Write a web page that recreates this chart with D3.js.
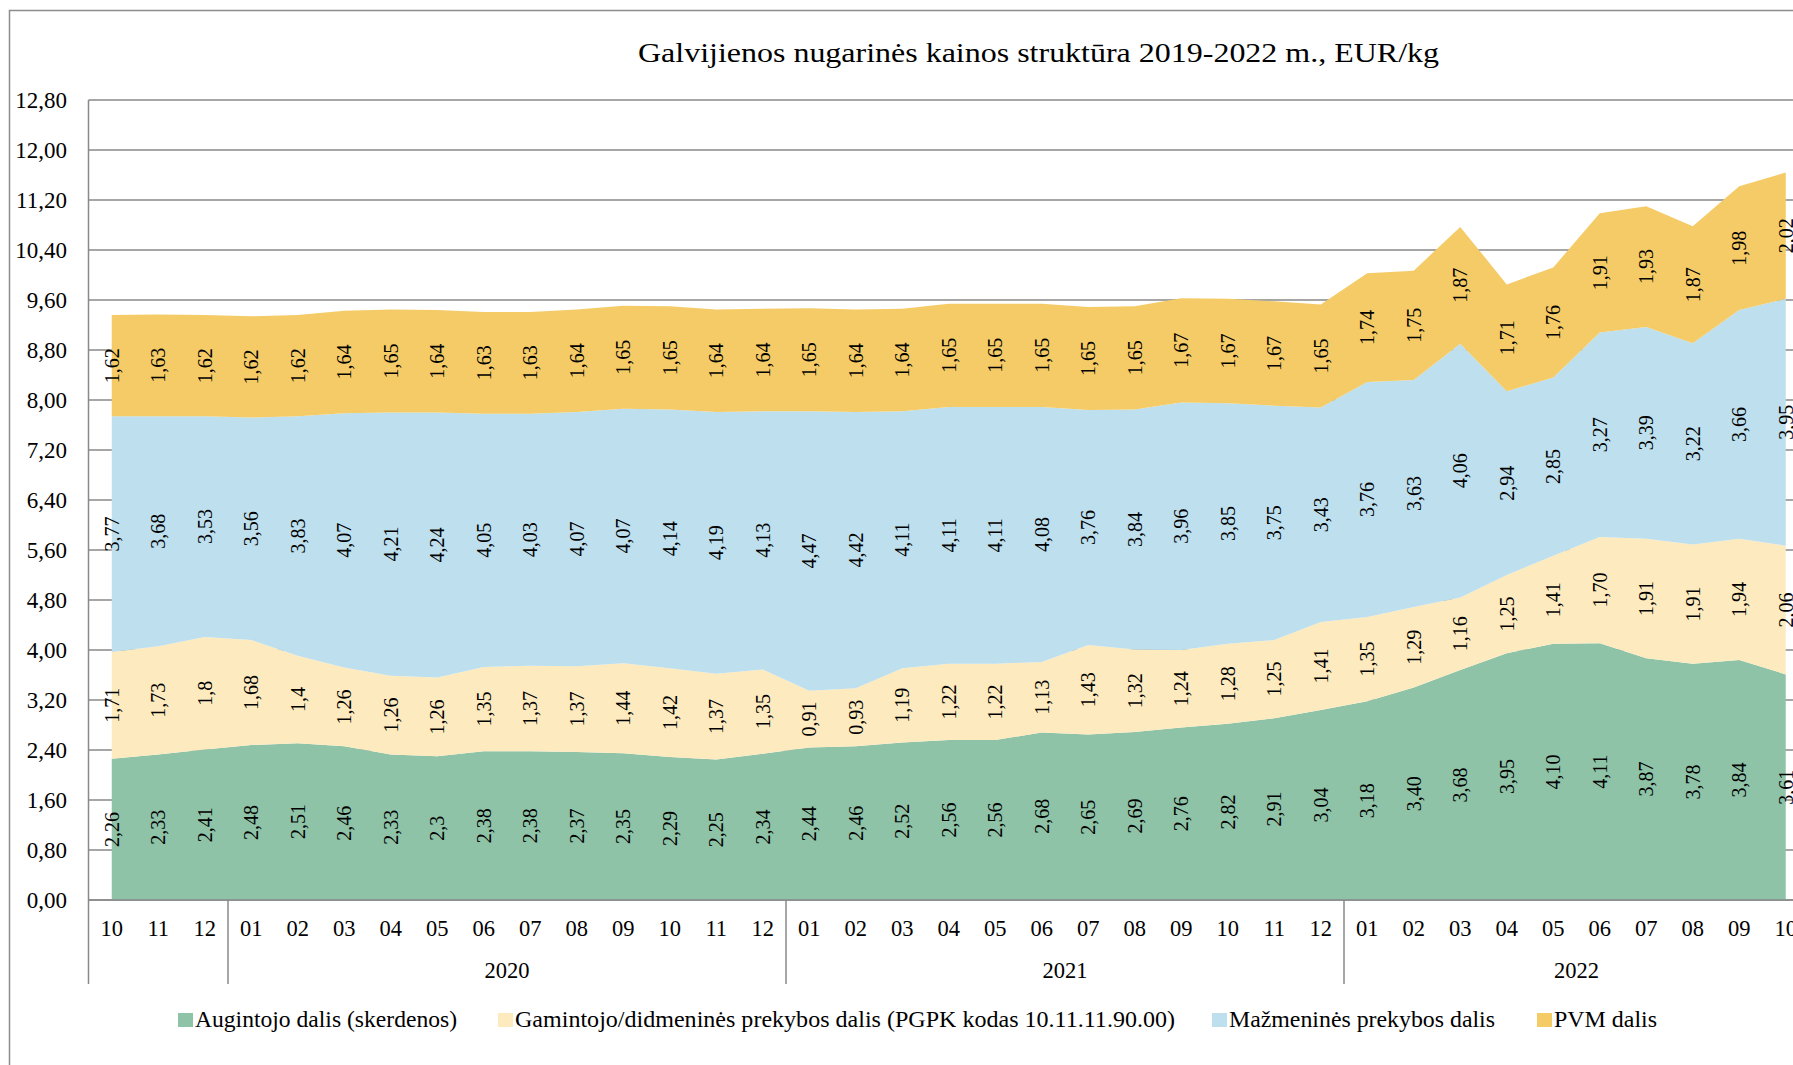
<!DOCTYPE html>
<html>
<head>
<meta charset="utf-8">
<script src="https://cdn.jsdelivr.net/npm/d3@7"></script>
<style>
  body { margin: 0; background: #fff; overflow: hidden; }
  svg { display: block; font-family: "Liberation Serif", "Times New Roman", serif; }
</style>
</head>
<body>
<svg width="1793" height="1065"></svg>
<script>
// kategorijos (menesiai) ir metai
var months = ["10","11","12",
  "01","02","03","04","05","06","07","08","09","10","11","12",
  "01","02","03","04","05","06","07","08","09","10","11","12",
  "01","02","03","04","05","06","07","08","09","10"];
var years = [
  {label: "", start: 0, end: 3},
  {label: "2020", start: 3, end: 15},
  {label: "2021", start: 15, end: 27},
  {label: "2022", start: 27, end: 37}
];

// reiksmes kaip parasyta diagramoje
var augintojo = ["2,26","2,33","2,41",
  "2,48","2,51","2,46","2,33","2,3","2,38","2,38","2,37","2,35","2,29","2,25","2,34",
  "2,44","2,46","2,52","2,56","2,56","2,68","2,65","2,69","2,76","2,82","2,91","3,04",
  "3,18","3,40","3,68","3,95","4,10","4,11","3,87","3,78","3,84","3,61"];
var gamintojo = ["1,71","1,73","1,8",
  "1,68","1,4","1,26","1,26","1,26","1,35","1,37","1,37","1,44","1,42","1,37","1,35",
  "0,91","0,93","1,19","1,22","1,22","1,13","1,43","1,32","1,24","1,28","1,25","1,41",
  "1,35","1,29","1,16","1,25","1,41","1,70","1,91","1,91","1,94","2,06"];
var mazmenines = ["3,77","3,68","3,53",
  "3,56","3,83","4,07","4,21","4,24","4,05","4,03","4,07","4,07","4,14","4,19","4,13",
  "4,47","4,42","4,11","4,11","4,11","4,08","3,76","3,84","3,96","3,85","3,75","3,43",
  "3,76","3,63","4,06","2,94","2,85","3,27","3,39","3,22","3,66","3,95"];
var pvm = ["1,62","1,63","1,62",
  "1,62","1,62","1,64","1,65","1,64","1,63","1,63","1,64","1,65","1,65","1,64","1,64",
  "1,65","1,64","1,64","1,65","1,65","1,65","1,65","1,65","1,67","1,67","1,67","1,65",
  "1,74","1,75","1,87","1,71","1,76","1,91","1,93","1,87","1,98","2,02"];

var seriesNames = ["Augintojo dalis (skerdenos)",
  "Gamintojo/didmeninės prekybos dalis (PGPK kodas 10.11.11.90.00)",
  "Mažmeninės prekybos dalis",
  "PVM dalis"];
var seriesColors = ["#8ec3a7", "#fdebbf", "#bddfee", "#f4cb66"];
var yTicks = [0, 0.8, 1.6, 2.4, 3.2, 4.0, 4.8, 5.6, 6.4, 7.2, 8.0, 8.8, 9.6, 10.4, 11.2, 12.0, 12.8];

var title = "Galvijienos nugarinės kainos struktūra 2019-2022 m., EUR/kg";

var num = function(s) { return +s.replace(",", "."); };
var raw = [augintojo, gamintojo, mazmenines, pvm];
var keys = ["a", "g", "m", "p"];

var data = months.map(function(m, i) {
  return {i: i, a: num(augintojo[i]), g: num(gamintojo[i]), m: num(mazmenines[i]), p: num(pvm[i])};
});

var svg = d3.select("svg");
var gridColor = "#898989";

var x = d3.scaleBand().domain(d3.range(months.length)).range([88.5, 88.5 + 46.5 * months.length]),
    y = d3.scaleLinear().domain([0, 12.8]).range([900, 100]);
var cx = function(i) { return x(i) + x.bandwidth() / 2; };
var edge = function(i) { return i < months.length ? x(i) : x.range()[1]; };

// isorinis remelis
svg.append("rect")
    .attr("x", 9.5).attr("y", 10.5)
    .attr("width", 1900).attr("height", 1200)
    .attr("fill", "none")
    .attr("stroke", "#8c8c8c")
    .attr("stroke-width", 1.5);

svg.append("text")
    .attr("x", 638)
    .attr("y", 62)
    .attr("textLength", 801)
    .attr("lengthAdjust", "spacingAndGlyphs")
    .style("font-size", "27px")
    .text(title);

// tinklelis
svg.append("g").selectAll("line")
    .data(yTicks)
    .enter().append("line")
    .attr("x1", 88.5).attr("x2", 1900)
    .attr("y1", function(d) { return y(d); })
    .attr("y2", function(d) { return y(d); })
    .attr("stroke", gridColor)
    .attr("stroke-width", 1.5);

var stack = d3.stack().keys(keys);
var layers = stack(data);

var area = d3.area()
    .x(function(d) { return cx(d.data.i); })
    .y0(function(d) { return y(d[0]); })
    .y1(function(d) { return y(d[1]); });

svg.append("g").selectAll("path")
    .data(layers)
    .enter().append("path")
    .attr("fill", function(d, k) { return seriesColors[k]; })
    .attr("d", area);

// asys
svg.append("line")
    .attr("x1", 88.5).attr("x2", 88.5)
    .attr("y1", 100).attr("y2", 984)
    .attr("stroke", gridColor).attr("stroke-width", 1.5);
svg.append("line")
    .attr("x1", 88.5).attr("x2", 1900)
    .attr("y1", 900).attr("y2", 900)
    .attr("stroke", gridColor).attr("stroke-width", 1.5);

svg.append("g").selectAll("text")
    .data(yTicks)
    .enter().append("text")
    .attr("x", 67)
    .attr("y", function(d) { return y(d); })
    .attr("dy", "0.35em")
    .attr("text-anchor", "end")
    .style("font-size", "23px")
    .text(function(d) { return d3.format(".2f")(d).replace(".", ","); });

// menesiai
svg.append("g").selectAll("text")
    .data(months)
    .enter().append("text")
    .attr("x", function(d, i) { return cx(i); })
    .attr("y", 936)
    .attr("text-anchor", "middle")
    .style("font-size", "22.5px")
    .text(function(d) { return d; });

// metu skirtukai
svg.append("g").selectAll("line")
    .data(years)
    .enter().append("line")
    .attr("x1", function(d) { return edge(d.end); })
    .attr("x2", function(d) { return edge(d.end); })
    .attr("y1", 900).attr("y2", 984)
    .attr("stroke", gridColor).attr("stroke-width", 1.5);

svg.append("g").selectAll("text")
    .data(years)
    .enter().append("text")
    .attr("x", function(d) { return (x(d.start) + edge(d.end)) / 2; })
    .attr("y", 978)
    .attr("text-anchor", "middle")
    .style("font-size", "22.5px")
    .text(function(d) { return d.label; });

// reiksmiu etiketes
layers.forEach(function(layer, k) {
  svg.append("g").selectAll("text")
      .data(layer)
      .enter().append("text")
      .attr("transform", function(d) {
        return "translate(" + cx(d.data.i) + "," + y((d[0] + d[1]) / 2) + ") rotate(-90)";
      })
      .attr("dy", "0.35em")
      .attr("text-anchor", "middle")
      .style("font-size", "20px")
      .text(function(d, i) { return raw[k][i]; });
});

// legenda
var legendX = [178, 498, 1212, 1537],
    legendW = [262, 660, 266, 103];
var legend = svg.append("g").selectAll("g")
    .data(seriesNames)
    .enter().append("g")
    .attr("transform", function(d, k) { return "translate(" + legendX[k] + ",1013)"; });
legend.append("rect")
    .attr("width", 15).attr("height", 14)
    .attr("fill", function(d, k) { return seriesColors[k]; });
legend.append("text")
    .attr("x", 17)
    .attr("y", 14)
    .attr("textLength", function(d, k) { return legendW[k]; })
    .attr("lengthAdjust", "spacingAndGlyphs")
    .style("font-size", "23px")
    .text(function(d) { return d; });
</script>
</body>
</html>
